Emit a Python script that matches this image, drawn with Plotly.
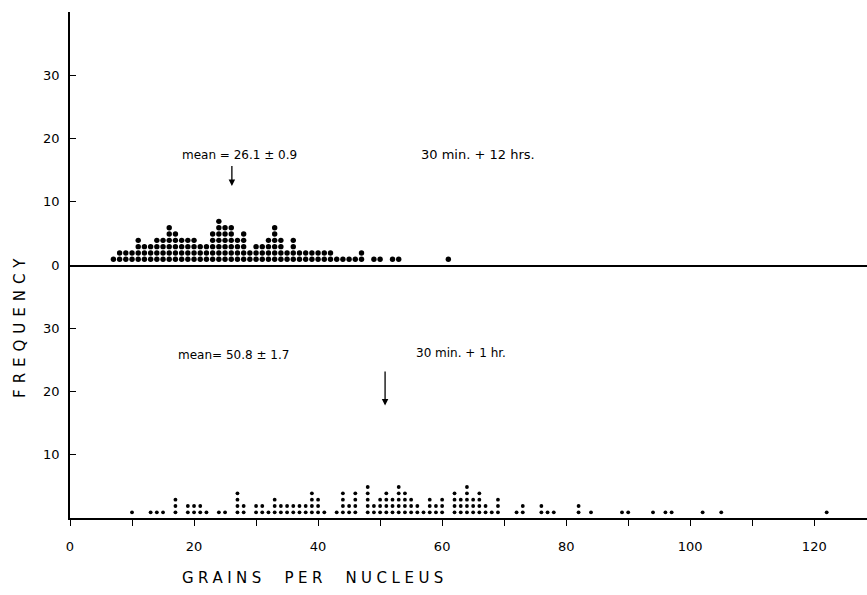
import plotly.graph_objects as go
from plotly.subplots import make_subplots

# ---- data: grains per nucleus (value) and number of nuclei (count) ----
top_values = [7, 8, 9, 10, 11, 12, 13, 14, 15, 16, 17, 18, 19, 20, 21, 22, 23, 24, 25, 26,
              27, 28, 29, 30, 31, 32, 33, 34, 35, 36, 37, 38, 39, 40, 41, 42, 43, 44, 45, 46,
              47, 49, 50, 52, 53, 61]
top_counts = [1, 2, 2, 2, 4, 3, 3, 4, 4, 6, 5, 4, 4, 4, 3, 3, 5, 7, 6, 6,
              4, 5, 2, 3, 3, 4, 6, 4, 2, 4, 2, 2, 2, 2, 2, 2, 1, 1, 1, 1,
              2, 1, 1, 1, 1, 1]

bottom_values = [10, 13, 14, 15, 17, 19, 20, 21, 22, 24, 25, 27, 28, 30, 31, 32, 33, 34, 35, 36,
                 37, 38, 39, 40, 41, 43, 44, 45, 46, 48, 49, 50, 51, 52, 53, 54, 55, 56, 57, 58,
                 59, 60, 62, 63, 64, 65, 66, 67, 68, 69, 72, 73, 76, 77, 78, 82, 84, 89, 90, 94,
                 96, 97, 102, 105, 122]
bottom_counts = [1, 1, 1, 1, 3, 2, 2, 2, 1, 1, 1, 4, 2, 2, 2, 1, 3, 2, 2, 2,
                 2, 2, 4, 3, 1, 1, 4, 2, 4, 5, 2, 3, 4, 3, 5, 4, 3, 2, 1, 3,
                 2, 3, 4, 3, 5, 3, 4, 2, 1, 3, 1, 2, 2, 1, 1, 2, 1, 1, 1, 1,
                 1, 1, 1, 1, 1]

top_mean = 26.1
bottom_mean = 50.8
top_mean_text = "mean = 26.1 ± 0.9"
bottom_mean_text = "mean= 50.8 ± 1.7"
top_label = "30 min. + 12 hrs."
bottom_label = "30 min. + 1 hr."

x_tick_vals = [0, 10, 20, 30, 40, 50, 60, 70, 80, 90, 100, 110, 120]
x_tick_text = ["0", "", "20", "", "40", "", "60", "", "80", "", "100", "", "120"]
top_y_ticks = [0, 10, 20, 30]
bottom_y_ticks = [10, 20, 30]
x_title = "GRAINS&nbsp;&nbsp;PER&nbsp;&nbsp;NUCLEUS"
y_title = "FREQUENCY"


def stack(values, counts):
    xs, ys = [], []
    for v, c in zip(values, counts):
        for k in range(1, c + 1):
            xs.append(v)
            ys.append(k - 0.1)
    return xs, ys


FONT = "DejaVu Sans"

fig = make_subplots(rows=2, cols=1, shared_xaxes=True, vertical_spacing=0)

tx, ty = stack(top_values, top_counts)
bx, by = stack(bottom_values, bottom_counts)

fig.add_trace(go.Scatter(x=tx, y=ty, mode="markers",
                         marker=dict(size=5.4, color="black"), showlegend=False), row=1, col=1)
fig.add_trace(go.Scatter(x=bx, y=by, mode="markers",
                         marker=dict(size=3.8, color="black"), showlegend=False), row=2, col=1)

axis_common = dict(showgrid=False, zeroline=False, showline=True, linecolor="black",
                   linewidth=1.5, automargin=False)

fig.update_xaxes(range=[0, 128.5], **axis_common)
fig.update_xaxes(row=1, col=1, showticklabels=False, ticks="")
fig.update_xaxes(row=2, col=1, tickmode="array", tickvals=x_tick_vals, ticktext=x_tick_text,
                 ticks="outside", ticklen=6, tickwidth=1.3, tickcolor="black",
                 ticklabelstandoff=10,
                 tickfont=dict(family=FONT, size=13, color="black"))

fig.update_yaxes(range=[0, 40], ticks="inside", ticklen=6, tickwidth=1.3, tickcolor="black",
                 tickfont=dict(family=FONT, size=13, color="black"),
                 ticklabelstandoff=6, **axis_common)
fig.update_yaxes(row=1, col=1, tickmode="array", tickvals=top_y_ticks,
                 ticktext=[str(v) for v in top_y_ticks])
fig.update_yaxes(row=2, col=1, tickmode="array", tickvals=bottom_y_ticks,
                 ticktext=[str(v) for v in bottom_y_ticks])

ann_font = dict(family=FONT, size=12, color="black")

# top panel texts
fig.add_annotation(x=27.4, y=17.4, xref="x", yref="y", text=top_mean_text,
                   showarrow=False, font=ann_font)
fig.add_annotation(x=65.8, y=17.4, xref="x", yref="y", text=top_label,
                   showarrow=False, font=dict(family=FONT, size=13, color="black"))
fig.add_annotation(x=top_mean, y=12.5, xref="x", yref="y", ax=top_mean, ay=15.9,
                   axref="x", ayref="y", text="", showarrow=True, arrowhead=2,
                   arrowsize=1, arrowwidth=1.3, arrowcolor="black")

# bottom panel texts
fig.add_annotation(x=26.3, y=25.7, xref="x2", yref="y2", text=bottom_mean_text,
                   showarrow=False, font=ann_font)
fig.add_annotation(x=63.0, y=26.1, xref="x2", yref="y2", text=bottom_label,
                   showarrow=False, font=ann_font)
fig.add_annotation(x=bottom_mean, y=17.8, xref="x2", yref="y2", ax=bottom_mean, ay=23.4,
                   axref="x2", ayref="y2", text="", showarrow=True, arrowhead=2,
                   arrowsize=1, arrowwidth=1.3, arrowcolor="black")

# axis titles (positions given in pixels, converted below)
fig.add_annotation(x=315, y=578, xref="paper", yref="paper",
                   text='<span style="letter-spacing:4.5px">' + x_title + '</span>',
                   showarrow=False, font=dict(family=FONT, size=15, color="black"))
fig.add_annotation(x=20, y=325, xref="paper", yref="paper",
                   text='<span style="letter-spacing:6px">' + y_title + '</span>',
                   textangle=-90, showarrow=False,
                   font=dict(family=FONT, size=15, color="black"))

W, H = 867, 595
L, R, T, B = 70, 0, 12, 77
fig.update_layout(width=W, height=H, margin=dict(l=L, r=R, t=T, b=B, autoexpand=False),
                  plot_bgcolor="white", paper_bgcolor="white")

pw, ph = W - L - R, H - T - B
for a in fig.layout.annotations:
    if a.xref == "paper" and a.x > 1:
        a.x = (a.x - L) / pw
        a.y = (H - B - a.y) / ph
        a.xanchor = "center"
        a.yanchor = "middle"

fig.write_html("out.html", config={"displayModeBar": False},
               post_script="document.body.style.margin='0';document.body.style.overflow='hidden';")
